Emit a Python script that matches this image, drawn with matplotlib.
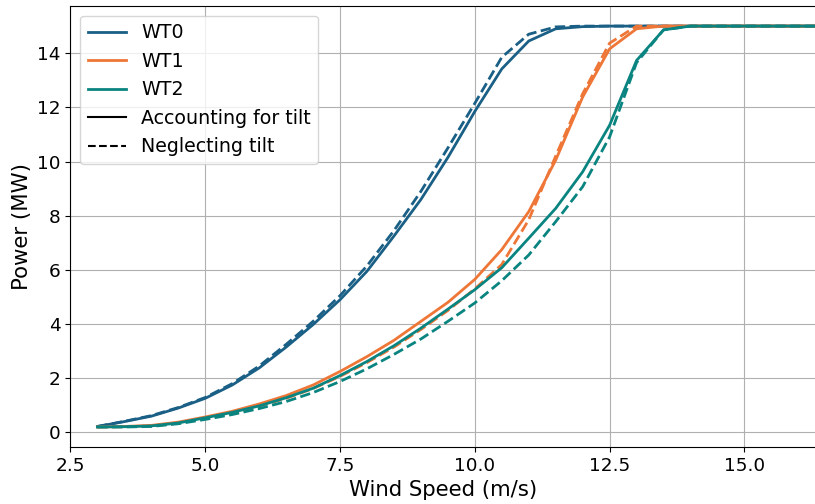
import matplotlib
matplotlib.use("Agg")
import matplotlib.pyplot as plt

# wind speeds (m/s)
ws = [3, 3.5, 4, 4.5, 5, 5.5, 6, 6.5, 7, 7.5, 8, 8.5, 9, 9.5, 10, 10.5, 11,
      11.5, 12, 12.5, 13, 13.5, 14, 14.5, 15, 15.5, 16, 16.5]

# power (MW), accounting for tilt
wt0_tilt = [0.22, 0.40, 0.60, 0.90, 1.26, 1.75, 2.38, 3.15, 3.98, 4.90, 5.95, 7.25,
            8.60, 10.15, 11.85, 13.42, 14.45, 14.90, 14.98, 15, 15, 15, 15, 15, 15, 15, 15, 15]
wt1_tilt = [0.20, 0.22, 0.26, 0.38, 0.57, 0.78, 1.05, 1.36, 1.75, 2.25, 2.80, 3.40,
            4.10, 4.80, 5.65, 6.75, 8.15, 10.05, 12.38, 14.16, 14.90, 15, 15, 15, 15, 15, 15, 15]
wt2_tilt = [0.20, 0.21, 0.24, 0.35, 0.54, 0.74, 0.98, 1.28, 1.63, 2.10, 2.62, 3.20,
            3.85, 4.55, 5.27, 6.08, 7.17, 8.27, 9.62, 11.34, 13.73, 14.86, 15, 15, 15, 15, 15, 15]

# power (MW), neglecting tilt
wt0_flat = [0.22, 0.41, 0.62, 0.92, 1.29, 1.80, 2.45, 3.25, 4.10, 5.05, 6.15, 7.45,
            8.90, 10.50, 12.15, 13.85, 14.70, 14.97, 15, 15, 15, 15, 15, 15, 15, 15, 15, 15]
wt1_flat = [0.20, 0.21, 0.24, 0.34, 0.52, 0.72, 0.97, 1.26, 1.62, 2.07, 2.58, 3.15,
            3.80, 4.50, 5.30, 6.20, 7.85, 10.20, 12.50, 14.37, 15, 15, 15, 15, 15, 15, 15, 15]
wt2_flat = [0.20, 0.20, 0.22, 0.32, 0.48, 0.66, 0.88, 1.14, 1.47, 1.88, 2.35, 2.88,
            3.45, 4.10, 4.78, 5.60, 6.55, 7.78, 9.07, 10.91, 13.65, 14.86, 15, 15, 15, 15, 15, 15]

names = ["WT0", "WT1", "WT2"]
colors = ["#1a5f85", "#ee7637", "#0a8480"]
tilt = [wt0_tilt, wt1_tilt, wt2_tilt]
flat = [wt0_flat, wt1_flat, wt2_flat]

fig = plt.figure(figsize=(8.15, 5.04), dpi=100)
ax = fig.add_axes([0.0865, 0.113, 0.9135, 0.875])

for name, c, p1, p2 in zip(names, colors, tilt, flat):
    ax.plot(ws, p1, color=c, lw=2)
    ax.plot(ws, p2, color=c, lw=2, ls="--")

# legend proxies
handles = [plt.Line2D([], [], color=c, lw=2) for c in colors]
handles += [plt.Line2D([], [], color="k", lw=1.5),
            plt.Line2D([], [], color="k", lw=1.5, ls="--")]
labels = names + ["Accounting for tilt", "Neglecting tilt"]
ax.legend(handles, labels, loc="upper left", fontsize=13.7)

ax.set_xlim(2.5, 16.31)
ax.set_xticks([2.5, 5.0, 7.5, 10.0, 12.5, 15.0])
ax.set_yticks([0, 2, 4, 6, 8, 10, 12, 14])
ax.grid(True)
ax.spines["right"].set_visible(False)
ax.tick_params(labelsize=13.3)
ax.set_xlabel("Wind Speed (m/s)", fontsize=15.3)
ax.set_ylabel("Power (MW)", fontsize=15.3)

fig.savefig("out.png", dpi=100)
